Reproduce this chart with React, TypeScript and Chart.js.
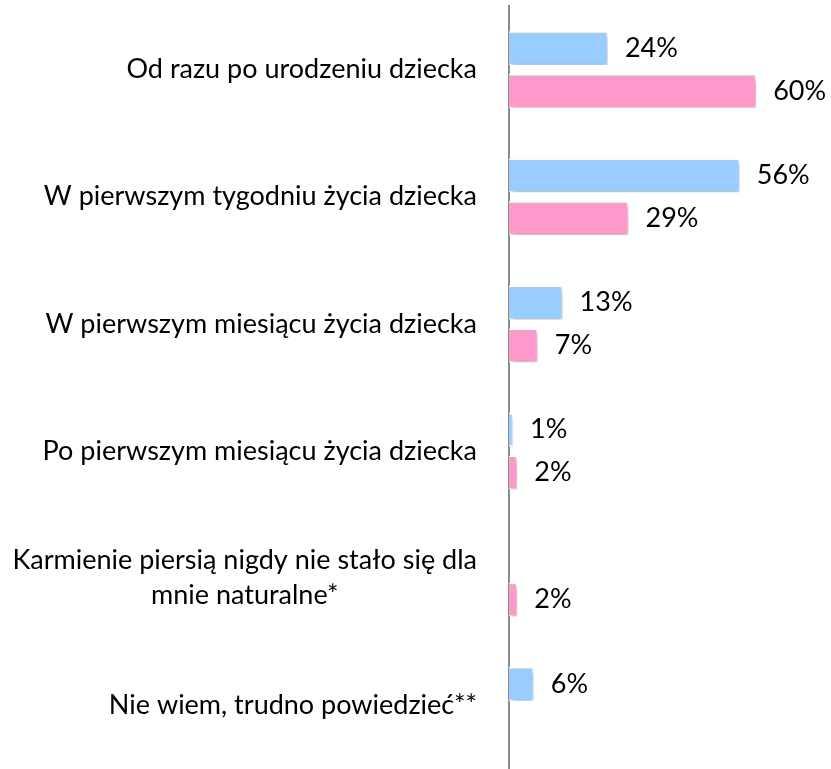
import React, { useEffect, useRef } from "react";
import { Chart, registerables } from "chart.js";

Chart.register(...registerables);

const categories: (string | string[])[] = [
  "Od razu po urodzeniu dziecka",
  "W pierwszym tygodniu życia dziecka",
  "W pierwszym miesiącu życia dziecka",
  "Po pierwszym miesiącu życia dziecka",
  ["Karmienie piersią nigdy nie stało się dla", "mnie naturalne*"],
  "Nie wiem, trudno powiedzieć**",
];
const blueValues: (number | null)[] = [24, 56, 13, 1, null, 6];
const pinkValues: (number | null)[] = [60, 29, 7, 2, 2, null];

const FONT = "Lato, 'Open Sans', sans-serif";
const LABEL_RIGHT = 477;
const LINE_H = 35;

const shadowPlugin = {
  id: "barShadow",
  beforeDatasetsDraw(chart: any) {
    const ctx = chart.ctx;
    ctx.save();
    ctx.shadowColor = "rgba(0,0,0,0.3)";
    ctx.shadowBlur = 5;
    ctx.shadowOffsetX = 2;
    ctx.shadowOffsetY = 3;
  },
  afterDatasetsDraw(chart: any) {
    const ctx = chart.ctx;
    ctx.restore();
    ctx.save();
    ctx.fillStyle = "#000";
    ctx.font = `27px ${FONT}`;
    ctx.textAlign = "left";
    ctx.textBaseline = "middle";
    chart.data.datasets.forEach((ds: any, i: number) => {
      const meta = chart.getDatasetMeta(i);
      meta.data.forEach((el: any, j: number) => {
        const v = ds.data[j];
        if (v === null || v === undefined) return;
        ctx.fillText(`${v}%`, el.x + 17, el.y);
      });
    });
    ctx.restore();
  },
};

const categoryLabelPlugin = {
  id: "categoryLabels",
  afterDraw(chart: any) {
    const ctx = chart.ctx;
    const yScale = chart.scales.y;
    ctx.save();
    ctx.fillStyle = "#000";
    ctx.font = `27px ${FONT}`;
    ctx.textAlign = "center";
    ctx.textBaseline = "middle";
    categories.forEach((label, i) => {
      const lines = Array.isArray(label) ? label : [label];
      const yc = yScale.getPixelForTick(i);
      const maxW = Math.max(...lines.map((l) => ctx.measureText(l).width));
      const cx = LABEL_RIGHT - maxW / 2;
      const y0 = yc - ((lines.length - 1) * LINE_H) / 2;
      lines.forEach((l, k) => ctx.fillText(l, cx, y0 + k * LINE_H));
    });
    ctx.restore();
  },
};

export default function App() {
  const ref = useRef<HTMLCanvasElement>(null);
  useEffect(() => {
    document.body.style.margin = "0";
    const chart = new Chart(ref.current!, {
      type: "bar",
      data: {
        labels: categories as any,
        datasets: [
          {
            data: blueValues,
            backgroundColor: "#99CCFF",
            borderColor: "#FFFFFF",
            borderWidth: 1.5,
            categoryPercentage: 0.673,
            barPercentage: 0.79,
          },
          {
            data: pinkValues,
            backgroundColor: "#FF99CC",
            borderColor: "#FFFFFF",
            borderWidth: 1.5,
            categoryPercentage: 0.673,
            barPercentage: 0.79,
          },
        ],
      },
      options: {
        indexAxis: "y",
        animation: false,
        responsive: false,
        layout: { padding: { top: 6, bottom: -4, left: 0, right: 13 } },
        plugins: { legend: { display: false }, tooltip: { enabled: false } },
        scales: {
          x: { display: false, min: 0, max: 75 },
          y: {
            afterFit: (scale: any) => {
              scale.width = 509;
              scale.paddingTop = 0;
              scale.paddingBottom = 0;
            },
            grid: { display: false, drawTicks: false },
            border: { display: true, color: "#8c8c8c", width: 2 },
            ticks: {
              padding: 32,
              color: "rgba(0,0,0,0)",
              font: { family: FONT, size: 27, lineHeight: 1.3 },
            },
          },
        },
      },
      plugins: [shadowPlugin, categoryLabelPlugin],
    });
    return () => chart.destroy();
  }, []);
  return <canvas ref={ref} width={831} height={769} style={{ display: "block" }} />;
}
